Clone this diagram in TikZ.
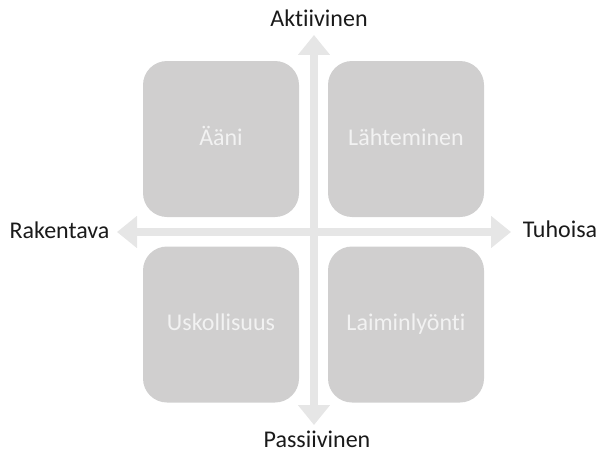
\documentclass[tikz,border=0pt]{standalone}
\usepackage{fontspec}
\setmainfont{Carlito}[Ligatures={NoCommon}]
\usetikzlibrary{arrows.meta}
\definecolor{boxgray}{HTML}{D0CFCF}
\definecolor{axisgray}{HTML}{E6E6E6}
\definecolor{boxtext}{HTML}{F2F2F2}
\definecolor{labeltext}{HTML}{1A1A1A}
\tikzset{
  quad/.style={fill=boxgray, rounded corners=24pt, minimum width=156pt, minimum height=156pt, inner sep=0pt},
  quadtext/.style={font=\fontsize{24pt}{28pt}\selectfont, text=boxtext, anchor=base},
  axislabel/.style={font=\fontsize{24pt}{28pt}\selectfont, text=labeltext, anchor=base, inner sep=0pt},
  axis/.style={draw=axisgray, line width=8.5pt, {Triangle[width=31pt,length=20pt]}-{Triangle[width=31pt,length=20pt]}}
}
\begin{document}
\begin{tikzpicture}[x=1pt,y=-1pt]
\useasboundingbox (0,0) rectangle (599,452);
% axes
\coordinate (west) at (117,232);
\coordinate (east) at (511,232);
\coordinate (north) at (314,35);
\coordinate (south) at (314,425);
\draw[axis] (west) -- (east);
\draw[axis] (north) -- (south);
% quadrants
\node[quad] (q1) at (221,139) {};
\node[quad] (q2) at (406,139) {};
\node[quad] (q3) at (221,324.5) {};
\node[quad] (q4) at (406,324.5) {};
\node[quadtext] (t1) at (221,145) {Ääni};
\node[quadtext] (t2) at (406,145) {Lähteminen};
\node[quadtext] (t3) at (221,330) {Uskollisuus};
\node[quadtext] (t4) at (406,330) {Laiminlyönti};
% axis labels
\node[axislabel] (top) at (319,27) {Aktiivinen};
\node[axislabel] (bottom) at (317,447.5) {Passiivinen};
\node[axislabel] (left) at (59.5,238) {Rakentava};
\node[axislabel] (right) at (560,237.5) {Tuhoisa};
\end{tikzpicture}
\end{document}
